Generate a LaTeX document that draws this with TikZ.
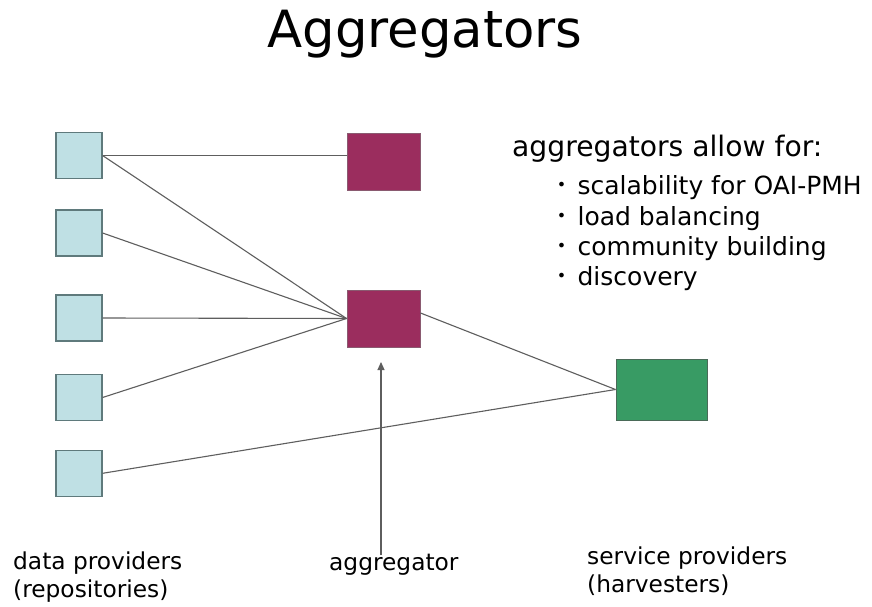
\documentclass[tikz,border=0pt]{standalone}
\usepackage{fontspec}
\setmainfont{DejaVu Sans}
\usetikzlibrary{calc,arrows.meta}
\definecolor{dpfill}{HTML}{BFE0E4}
\definecolor{dpline}{HTML}{5F7A7C}
\definecolor{aggfill}{HTML}{9B2D5E}
\definecolor{aggline}{HTML}{8A5A70}
\definecolor{spfill}{HTML}{389B64}
\definecolor{spline}{HTML}{4A6A58}
\definecolor{conn}{HTML}{5E5E5E}
\newcommand{\smallbul}{\makebox[15pt]{\fontsize{16}{16}\selectfont\raisebox{3.5pt}{•}}\hspace{8.4pt}}
\tikzset{
  dpbox/.style={rectangle, draw=dpline, fill=dpfill, line width=1.2pt, minimum width=46pt, minimum height=46pt, inner sep=0pt},
  aggbox/.style={rectangle, draw=aggline, fill=aggfill, line width=1pt, minimum width=73pt, minimum height=57pt, inner sep=0pt},
  spbox/.style={rectangle, draw=spline, fill=spfill, line width=1pt, minimum width=91pt, minimum height=61pt, inner sep=0pt},
  link/.style={draw=conn, line width=1.1pt},
  lbl/.style={inner sep=0pt, font=\fontsize{23.3}{28}\selectfont, align=left, anchor=base west},
  itm/.style={inner sep=0pt, font=\fontsize{25}{30}\selectfont, anchor=base west}
}
\begin{document}
\begin{tikzpicture}[x=1pt,y=-1pt]
\useasboundingbox (0,0) rectangle (872,607);
\fill[white] (0,0) rectangle (872,607);
% title
\node[inner sep=0pt, anchor=base, font=\fontsize{51.3}{60}\selectfont] (title) at (425,48) {Aggregators};
% boxes
\node[dpbox] (dp1) at (79,155.5) {};
\node[dpbox] (dp2) at (79,233) {};
\node[dpbox] (dp3) at (79,318) {};
\node[dpbox] (dp4) at (79,397.5) {};
\node[dpbox] (dp5) at (79,473.3) {};
\node[aggbox] (aggtop) at (383.5,161.5) {};
\node[aggbox] (aggmid) at (383.5,318.5) {};
\node[spbox] (sp) at (661.5,389.5) {};
% connectors
\draw[link] (dp1.east) -- (dp1.east -| aggtop.west);
\draw[link] (dp1.east) -- (aggmid.west);
\draw[link] (dp2.east) -- (aggmid.west);
\draw[link] (dp3.east) -- (aggmid.west);
\draw[link] (dp4.east) -- (aggmid.west);
\draw[link] (dp5.east) -- (sp.west);
\draw[link] ($(aggmid.east)+(0,-5.5)$) -- (sp.west);
% arrow
\coordinate (arrowfoot) at (381,555);
\coordinate (arrowtip) at (381,362);
\draw[draw=conn, line width=1.1pt, -{Triangle[width=7pt,length=8pt]}] (arrowfoot) -- (arrowtip);
% text
\node[itm, font=\fontsize{28.2}{30}\selectfont] (head) at (512,156) {aggregators allow for:};
\node[itm] (i1) at (554,194) {\smallbul scalability for OAI-PMH};
\node[itm] (i2) at (554,225) {\smallbul load balancing};
\node[itm] (i3) at (554,255) {\smallbul community building};
\node[itm] (i4) at (554,285) {\smallbul discovery};
\node[lbl] (ldp) at (13,597) {data providers\\(repositories)};
\node[lbl] (lagg) at (329,570) {aggregator};
\node[lbl] (lsp) at (587,592) {service providers\\(harvesters)};
\end{tikzpicture}
\end{document}
